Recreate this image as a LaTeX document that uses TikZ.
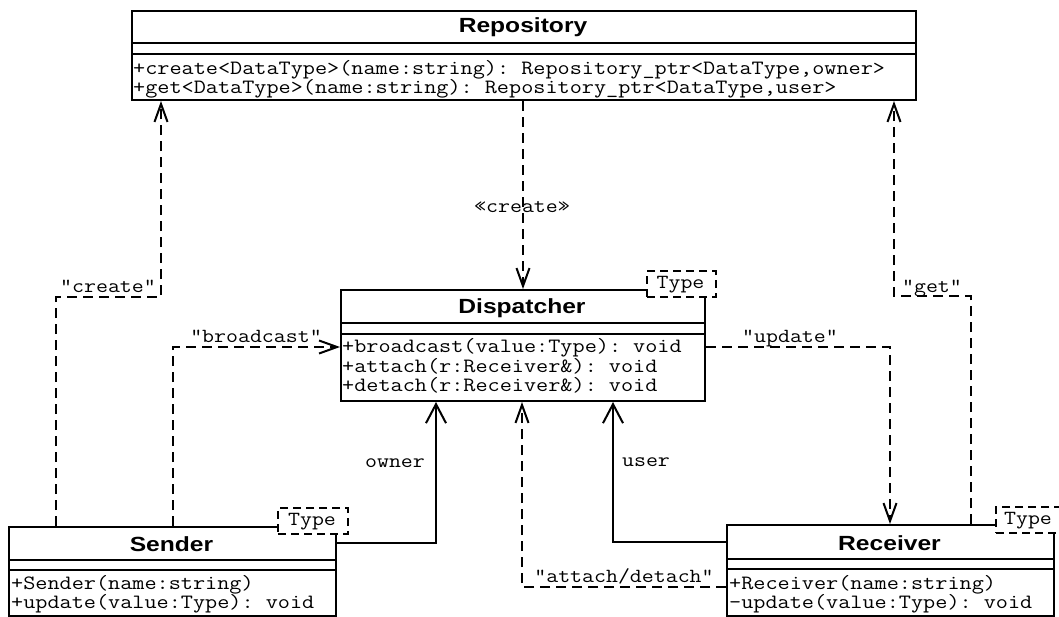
\documentclass[tikz,border=0pt]{standalone}
\usepackage{fontspec}
\setmonofont{Latin Modern Mono}[FakeStretch=1.16]
\newfontfamily\titlefont{Liberation Sans}[FakeStretch=1.2]
\usetikzlibrary{arrows.meta}

\tikzset{
  box/.style={draw, line width=2pt, fill=white, inner sep=0pt, anchor=north west},
  divider/.style={line width=2pt},
  title/.style={font=\titlefont\bfseries\fontsize{20.5}{24}\selectfont, anchor=base, inner sep=0pt},
  op/.style={font=\ttfamily\fontsize{20.3}{22}\selectfont, anchor=base west, inner sep=0pt},
  lbl/.style={font=\ttfamily\fontsize{20}{22}\selectfont, anchor=base, inner sep=0pt},
  tparam/.style={draw, line width=2pt, dash pattern=on 8pt off 5pt, fill=white, inner sep=0pt,
    anchor=north west, font=\ttfamily\fontsize{20}{22}\selectfont},
  dep/.style={line width=2pt, dash pattern=on 10pt off 6pt, -{Straight Barb[length=18pt,width=13pt]}},
  assoc/.style={line width=2pt, -{Straight Barb[length=19pt,width=20pt]}}
}

\begin{document}
\begin{tikzpicture}[x=1pt,y=-1pt]
\useasboundingbox (0,0) rectangle (1059,616);
\fill[white] (0,0) rectangle (1059,616);

% class boxes
\node[box, minimum width=784pt, minimum height=89pt] (repo) at (131,10) {};
\node[box, minimum width=364pt, minimum height=111pt] (disp) at (340,289) {};
\node[box, minimum width=327pt, minimum height=89pt] (sender) at (8,526) {};
\node[box, minimum width=327pt, minimum height=91pt] (recv) at (726,524) {};

% compartments
\draw[divider] (repo.west |- 0,43) -- (repo.east |- 0,43);
\draw[divider] (repo.west |- 0,54) -- (repo.east |- 0,54);
\draw[divider] (disp.west |- 0,323) -- (disp.east |- 0,323);
\draw[divider] (disp.west |- 0,334) -- (disp.east |- 0,334);
\draw[divider] (sender.west |- 0,560) -- (sender.east |- 0,560);
\draw[divider] (sender.west |- 0,570) -- (sender.east |- 0,570);
\draw[divider] (recv.west |- 0,559) -- (recv.east |- 0,559);
\draw[divider] (recv.west |- 0,569) -- (recv.east |- 0,569);

% template parameters
\node[tparam, minimum width=69pt, minimum height=26pt] (tdisp) at (646,270) {};
\node[lbl] (tdispt) at (680.5,288) {Type};
\node[tparam, minimum width=70pt, minimum height=26pt] (tsend) at (277,507) {};
\node[lbl] (tsendt) at (312,525) {Type};
\node[tparam, minimum width=72pt, minimum height=26pt] (trecv) at (995,506) {};
\node[lbl] (trecvt) at (1028,524) {Type};

% titles
\node[title] (repot) at (523,32) {Repository};
\node[title] (dispt) at (522,313) {Dispatcher};
\node[title] (sendert) at (171.5,551) {Sender};
\node[title] (recvt) at (889.5,550) {Receiver};

% operations
\node[op] (r1) at (133,74) {+create<DataType>(name:string): Repository\_ptr<DataType,owner>};
\node[op] (r2) at (133,93) {+get<DataType>(name:string): Repository\_ptr<DataType,user>};
\node[op] (d1) at (342,352) {+broadcast(value:Type): void};
\node[op] (d2) at (342,372) {+attach(r:Receiver\&): void};
\node[op] (d3) at (342,391) {+detach(r:Receiver\&): void};
\node[op] (s1) at (11,589) {+Sender(name:string)};
\node[op] (s2) at (11,608) {+update(value:Type): void};
\node[op] (v1) at (729,589) {+Receiver(name:string)};
\node[op] (v2) at (729,608) {-update(value:Type): void};

% bend points
\coordinate (crA) at (56,297);
\coordinate (crB) at (161,297);
\coordinate (bcA) at (173,347);
\coordinate (owA) at (436,543);
\coordinate (usA) at (613,542);
\coordinate (atA) at (522,587);
\coordinate (upA) at (890,347);
\coordinate (geA) at (971,296);
\coordinate (geB) at (894,296);

% connectors
\draw[dep] (crA |- sender.north) -- (crA) -- (crB) -- (crB |- repo.south);
\draw[dep] (bcA |- sender.north) -- (bcA) -- (bcA -| disp.west);
\draw[assoc] (owA -| sender.east) -- (owA) -- (owA |- disp.south);
\draw[assoc] (usA -| recv.west) -- (usA) -- (usA |- disp.south);
\draw[dep] (atA -| recv.west) -- (atA) -- (atA |- disp.south);
\draw[dep] (upA -| disp.east) -- (upA) -- (upA |- recv.north);
\draw[dep] (geA |- recv.north) -- (geA) -- (geB) -- (geB |- repo.south);
\draw[dep] (disp.north |- repo.south) -- (disp.north);

% labels
\node[lbl] (lcreate) at (108,292) {"create"};
\node[lbl] (lbroad) at (256,342) {"broadcast"};
\node[lbl] (lowner) at (395,467) {owner};
\node[lbl] (luser) at (646,466) {user};
\node[lbl] (lattach) at (624,582) {"attach/detach"};
\node[lbl] (lupdate) at (790,342) {"update"};
\node[lbl] (lget) at (932,292) {"get"};
\node[lbl] (lcr) at (522,212) {«create»};
\end{tikzpicture}
\end{document}
